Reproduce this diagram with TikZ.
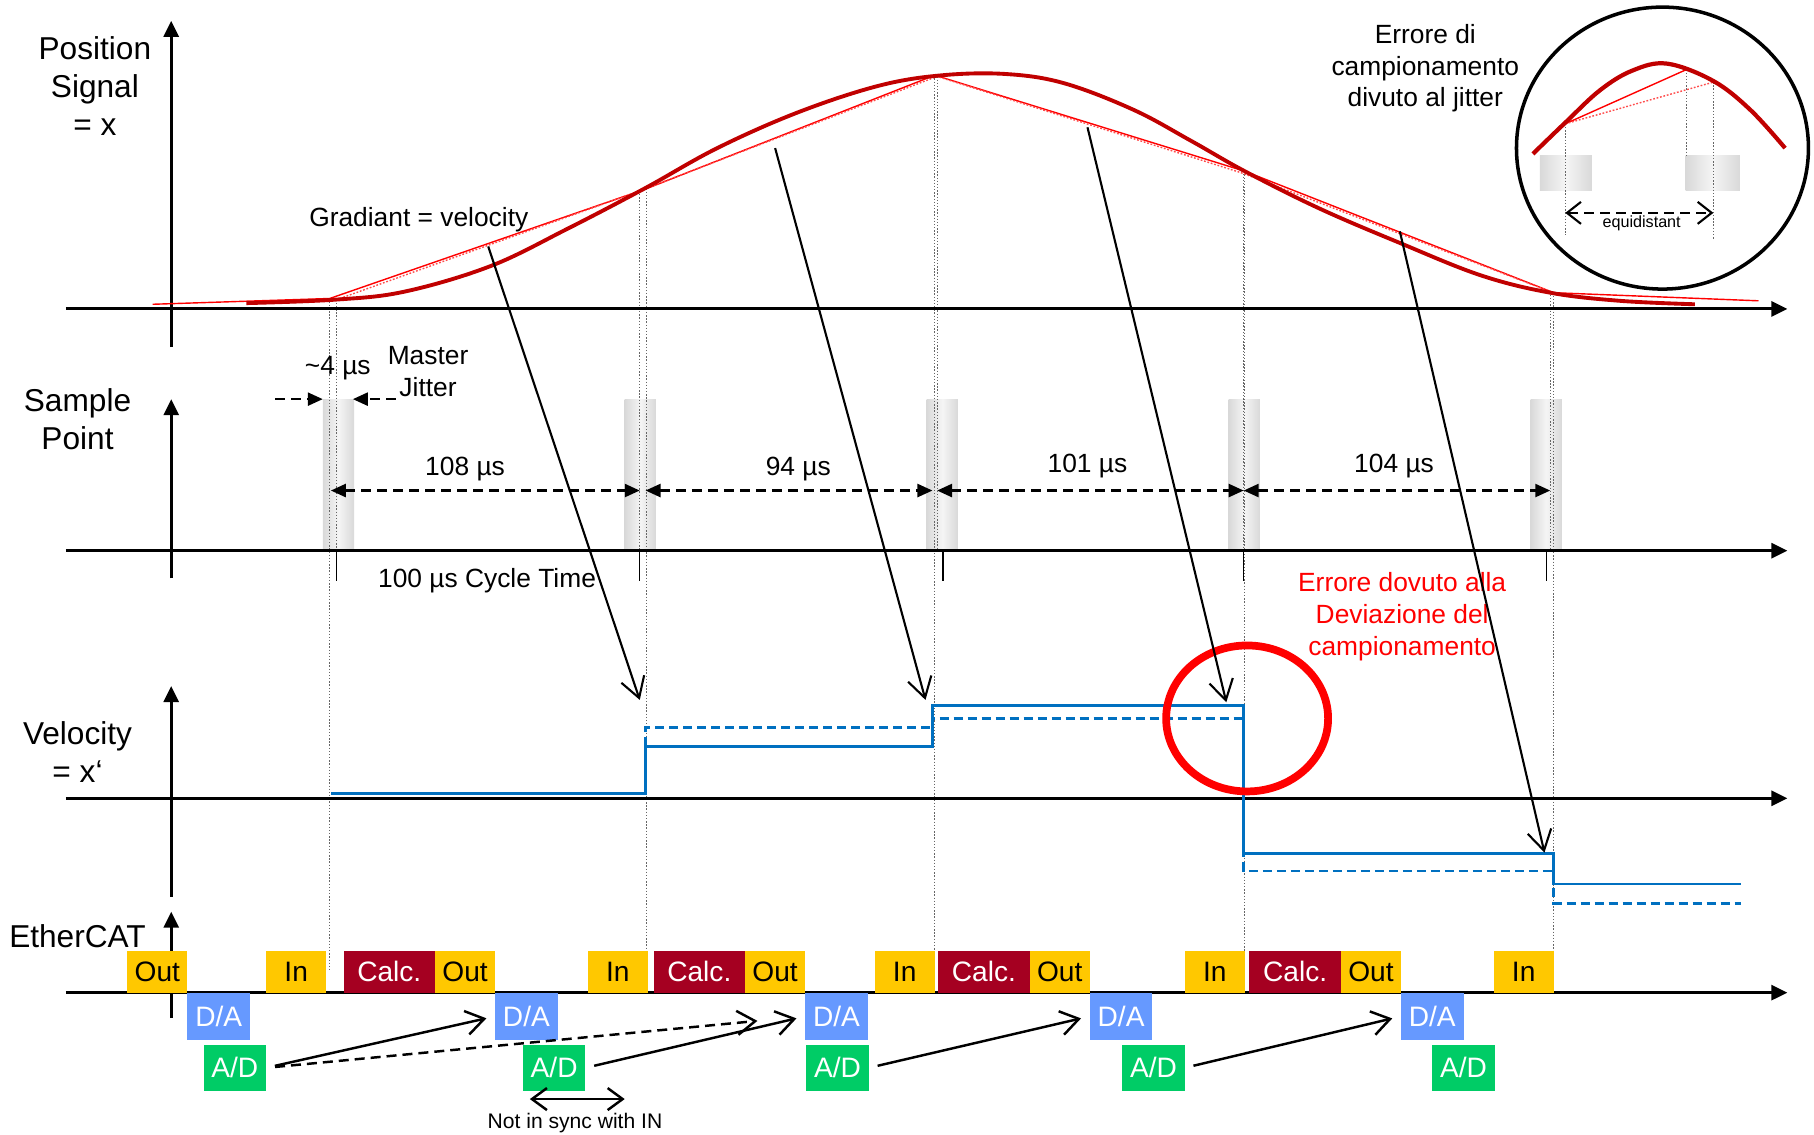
\documentclass[tikz,border=0pt]{standalone}
\usepackage{fontspec}
\setmainfont{Liberation Sans}
\usetikzlibrary{arrows.meta,positioning}

\definecolor{ecyellow}{HTML}{FFC800}
\definecolor{eccalc}{HTML}{A50021}
\definecolor{ecda}{HTML}{6699FF}
\definecolor{ecad}{HTML}{00CC66}
\definecolor{curvered}{HTML}{C00000}
\definecolor{velblue}{HTML}{0070C0}

\tikzset{
  axisline/.style={line width=0.8pt,-{Triangle[length=1.6mm,width=1.5mm]}},
  guide/.style={black!60,line width=0.3pt,dash pattern=on 0.4pt off 0.5pt},
  dimline/.style={line width=0.7pt,dash pattern=on 1mm off 0.6mm},
  dimboth/.style={dimline,{Triangle[length=1.5mm,width=1.3mm]}-{Triangle[length=1.5mm,width=1.3mm]}},
  dimto/.style={dimline,-{Triangle[length=1.5mm,width=1.3mm]}},
  slope/.style={line width=0.6pt,-{Straight Barb[length=2mm,width=2.4mm]}},
  flow/.style={line width=0.7pt,-{Straight Barb[length=1.8mm,width=2.4mm]},shorten <=0.9mm,shorten >=0.9mm},
  thinred/.style={red,line width=0.4pt},
  poscurve/.style={curvered,line width=1.1pt},
  velline/.style={velblue,line width=0.75pt},
  samplebar/.style={left color=black!15,right color=black!15,middle color=black!4},
  biglabel/.style={font=\fontsize{9}{10.8}\selectfont,align=center,inner sep=0pt},
  txt/.style={font=\fontsize{7.5}{9}\selectfont,align=center,inner sep=0pt},
  slot/.style={minimum width=6.02mm,minimum height=4.17mm,inner sep=0pt,outer sep=0pt,font=\fontsize{8}{9}\selectfont},
  iobox/.style={slot,fill=ecyellow},
  calcbox/.style={slot,fill=eccalc,text=white,minimum width=9.14mm},
  dabox/.style={slot,fill=ecda,text=white,minimum width=6.25mm,minimum height=4.74mm},
  adbox/.style={slot,fill=ecad,text=white,minimum width=6.25mm,minimum height=4.63mm}
}

\begin{document}
\begin{tikzpicture}[x=0.1157mm,y=-0.1157mm]
  \useasboundingbox (0,0) rectangle (1568,981);

  % Coordinates
  \coordinate (S1) at (285,258);
  \coordinate (S2) at (559,163);
  \coordinate (S3) at (808,65);
  \coordinate (S4) at (1076,148);
  \coordinate (S5) at (1343,253);
  \coordinate (T1) at (291,259);
  \coordinate (T2) at (553,165);
  \coordinate (T3) at (810,66);
  \coordinate (T4) at (1075,150);
  \coordinate (T5) at (1340,252);
  \coordinate (G1) at (422,213);
  \coordinate (G2) at (670,128);
  \coordinate (G3) at (940,110);
  \coordinate (G4) at (1210,200);
  \coordinate (V1) at (553,605);
  \coordinate (V2) at (800,605);
  \coordinate (V3) at (1060,607);
  \coordinate (V4) at (1335,737);

  % Sample bars and guides
  \foreach \x in {279,540,801,1062,1323}
    \shade[samplebar] (\x,345) rectangle ++(27,131);
  \foreach \p in {S1,S2,S3,S4,S5}
    \draw[guide] (\p) -- (\p |- 0,840);
  \foreach \p in {T1,T2,T3,T4,T5}
    \draw[guide] (\p) -- (\p |- 0,476);
  \foreach \x in {291,553,815,1075,1337}
    \draw[line width=0.4pt] (\x,476) -- (\x,502);

  % Axes
  \draw[axisline] (57,267) -- (1545,267);
  \draw[axisline] (148,300) -- (148,18);
  \draw[axisline] (57,476) -- (1545,476);
  \draw[axisline] (148,500) -- (148,345);
  \draw[axisline] (57,690) -- (1545,690);
  \draw[axisline] (148,775) -- (148,593);
  \draw[axisline] (57,858) -- (1545,858);
  \draw[axisline] (148,880) -- (148,788);

  \node[biglabel] (possig) at (82,74) {Position\\Signal\\= x};
  \node[biglabel] (samppt) at (67,362) {Sample\\Point};
  \node[biglabel] (veloc) at (67,650) {Velocity\\= x‘};
  \node[biglabel] (ecat) at (67,809) {EtherCAT};

  % Position signal
  \draw[thinred] (132,263) -- (S1) -- (S2) -- (S3) -- (S4) -- (S5) -- (1520,260);
  \draw[thinred,red!70,dash pattern=on 0.5pt off 0.5pt] (T1) -- (T2) -- (T3) -- (T4) -- (T5);
  \draw[poscurve] plot[smooth,tension=0.6] coordinates {(213,262) (290,259) (350,252) (424,230)
    (490,198) (557,163) (620,128) (690,97) (760,74) (815,65) (870,64) (920,72) (980,95)
    (1030,122) (1076,148) (1140,180) (1210,210) (1280,238) (1340,253) (1400,260) (1465,263)};
  \node[txt] (grad) at (362,190) {Gradiant = velocity};

  % Jitter and cycle
  \draw[dimto] (238,345) -- (279,345);
  \draw[dimto] (342,345) -- (305,345);
  \node[txt] (jit) at (292,318) {\textasciitilde 4 µs};
  \node[txt] (master) at (370,321) {Master\\Jitter};
  \draw[dimboth] (286,424) -- (553,424);
  \draw[dimboth] (558,424) -- (806,424);
  \draw[dimboth] (810,424) -- (1075,424);
  \draw[dimboth] (1075,424) -- (1340,424);
  \node[txt] (d1) at (402,405) {108 µs};
  \node[txt] (d2) at (690,405) {94 µs};
  \node[txt] (d3) at (940,403) {101 µs};
  \node[txt] (d4) at (1205,403) {104 µs};
  \node[txt] (cycle) at (421,502) {100 µs Cycle Time};

  % Velocity
  \draw[velline] (286,686) -- (558,686) -- (558,645) -- (806,645) -- (806,610) -- (1075,610)
    -- (1075,738) -- (1343,738) -- (1343,764) -- (1505,764);
  \draw[velline,dash pattern=on 0.9mm off 0.5mm] (558,645) -- (558,629) -- (806,629) -- (806,621)
    -- (1075,621) -- (1075,753) -- (1343,753) -- (1343,781) -- (1505,781);
  \draw[red,line width=2.2pt] (1078,621) ellipse [x radius=8.1mm,y radius=7.3mm];
  \node[txt,red] (err) at (1212,533) {Errore dovuto alla\\Deviazione del\\campionamento};

  \draw[slope] (G1) -- (V1);
  \draw[slope] (G2) -- (V2);
  \draw[slope] (G3) -- (V3);
  \draw[slope] (G4) -- (V4);

  % Zoom circle
  \draw[line width=1pt] (1437,128) ellipse [x radius=14.6mm,y radius=14.1mm];
  \shade[samplebar] (1331,134) rectangle (1376,165);
  \shade[samplebar] (1457,134) rectangle (1504,165);
  \draw[guide] (1353,107) -- (1353,203);
  \draw[guide] (1458,60) -- (1458,134);
  \draw[guide] (1481,71) -- (1481,207);
  \draw[thinred] (1353,107) -- (1458,60);
  \draw[thinred,red!70,dash pattern=on 0.5pt off 0.5pt] (1353,107) -- (1481,71);
  \draw[poscurve,line width=1.2pt] plot[smooth,tension=0.6] coordinates {(1325,133) (1353,106)
    (1383,78) (1411,61) (1441,55) (1481,70) (1513,95) (1543,128)};
  \draw[dimline,line width=0.6pt,{Straight Barb[length=1.4mm,width=2.2mm]}-{Straight Barb[length=1.4mm,width=2.2mm]}]
    (1353,184) -- (1481,184);
  \node[inner sep=0pt,font=\fontsize{4.6}{5}\selectfont] (equi) at (1419,193) {equidistant};
  \node[txt] (errjit) at (1232,59) {Errore di\\campionamento\\divuto al jitter};

  % EtherCAT frames
  \node[iobox,anchor=south west] (outA) at (110,858) {Out};
  \node[iobox,anchor=south west] (inA) at (230,858) {In};
  \node[calcbox,anchor=south west] (calcA) at (297,858) {Calc.};
  \node[iobox,right=0pt of calcA] (outB) {Out};
  \node[iobox,anchor=south west] (inB) at (508,858) {In};
  \node[calcbox,anchor=south west] (calcB) at (565,858) {Calc.};
  \node[iobox,right=0pt of calcB] (outC) {Out};
  \node[iobox,anchor=south west] (inC) at (756,858) {In};
  \node[calcbox,anchor=south west] (calcC) at (811,858) {Calc.};
  \node[iobox,right=0pt of calcC] (outD) {Out};
  \node[iobox,anchor=south west] (inD) at (1024,858) {In};
  \node[calcbox,anchor=south west] (calcD) at (1080,858) {Calc.};
  \node[iobox,right=0pt of calcD] (outE) {Out};
  \node[iobox,anchor=south west] (inE) at (1291,858) {In};

  \node[dabox,anchor=north west] (daA) at (outA.south east) {D/A};
  \node[dabox,anchor=north west] (daB) at (outB.south east) {D/A};
  \node[dabox,anchor=north west] (daC) at (outC.south east) {D/A};
  \node[dabox,anchor=north west] (daD) at (outD.south east) {D/A};
  \node[dabox,anchor=north west] (daE) at (outE.south east) {D/A};

  \node[adbox,anchor=north west] (adA) at (176,903) {A/D};
  \node[adbox,anchor=north west] (adB) at (452,903) {A/D};
  \node[adbox,anchor=north west] (adC) at (697,903) {A/D};
  \node[adbox,anchor=north west] (adD) at (970,903) {A/D};
  \node[adbox,anchor=north west] (adE) at (1238,903) {A/D};

  \draw[flow] (adA.east) -- (daB.west);
  \draw[flow,dash pattern=on 1mm off 0.6mm,shorten >=4.8mm] (adA.east) -- (daC.west);
  \draw[flow] (adB.east) -- (daC.west);
  \draw[flow] (adC.east) -- (daD.west);
  \draw[flow] (adD.east) -- (daE.west);

  \coordinate (ns1) at (458,950);
  \coordinate (ns2) at (540,950);
  \draw[line width=0.7pt,{Straight Barb[length=1.5mm,width=2.2mm]}-{Straight Barb[length=1.5mm,width=2.2mm]}] (ns1) -- (ns2);
  \node[inner sep=0pt,font=\fontsize{6}{7}\selectfont] (nosync) at (497,971) {Not in sync with IN};
\end{tikzpicture}
\end{document}
